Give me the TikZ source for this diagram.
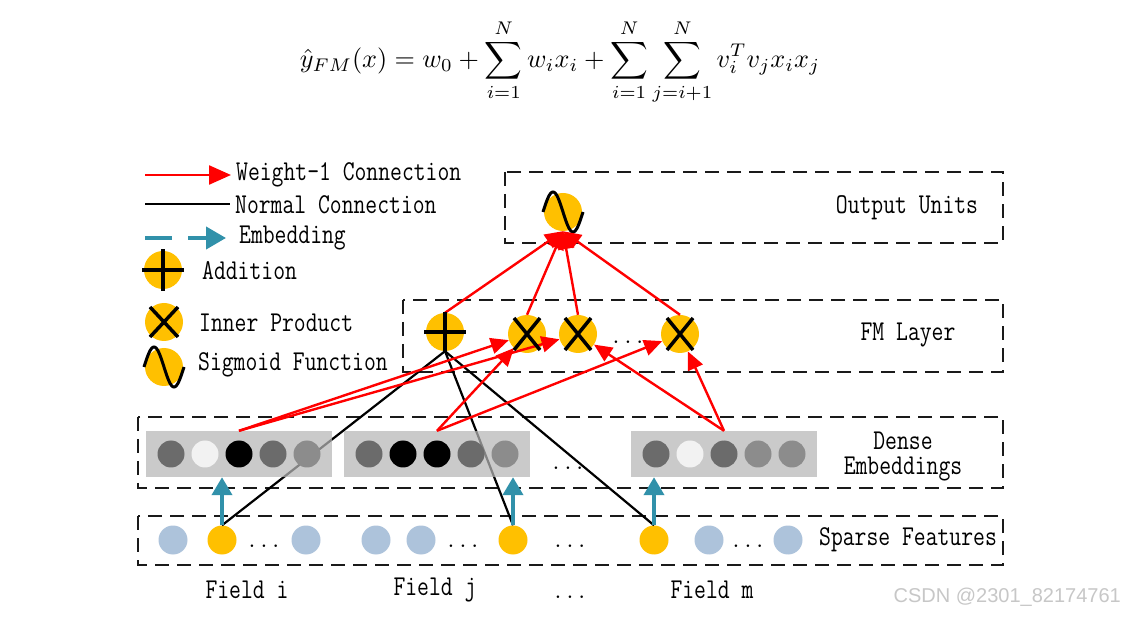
\documentclass[tikz,border=0pt]{standalone}
\usepackage{graphicx}
\usepackage{fontspec}
\newfontfamily\wmfont{Liberation Sans}
\usetikzlibrary{arrows.meta}
\definecolor{myyellow}{HTML}{FFC000}
\definecolor{myblue}{HTML}{ADC3DB}
\definecolor{myteal}{HTML}{3191AA}
\definecolor{rectgray}{HTML}{B6B6B6}
\definecolor{dgray}{HTML}{6B6B6B}
\definecolor{lgray}{HTML}{F2F2F2}
\definecolor{mgray}{HTML}{8C8C8C}
\definecolor{boxblack}{HTML}{1A1A1A}
\newcommand\lbfont{\fontsize{23}{27}\selectfont\ttfamily\addfontfeature{FakeBold=0.8}}
\newcommand\tstretch[1]{\scalebox{1}[1.25]{#1}}
\begin{document}
\begin{tikzpicture}[x=1pt,y=-1pt,
  layerbox/.style={draw=boxblack, line width=2.6pt, dash pattern=on 14pt off 8pt},
  opnode/.style={circle, fill=myyellow, minimum size=38pt, inner sep=0pt},
  sym/.style={line width=3.5pt, black},
  embc/.style={circle, minimum size=27pt, inner sep=0pt},
  sparsec/.style={circle, minimum size=29pt, inner sep=0pt},
  embrect/.style={fill=rectgray, fill opacity=0.72, minimum width=186pt, minimum height=46pt, inner sep=0pt},
  wline/.style={red, line width=2.4pt, -{Triangle[length=18pt,width=16pt]}},
  nline/.style={black, line width=2.2pt},
  eline/.style={myteal, line width=4pt, -{Triangle[length=18pt,width=20pt]}},
  lbl/.style={font=\lbfont, inner sep=0pt}
]
\fill[white] (0,0) rectangle (1125,617);
\useasboundingbox (0,0) rectangle (1125,617);

% equation
\node[scale=2.62] (eq) at (560,62) {$\displaystyle \hat{y}_{FM}(x) = w_0 + \sum_{i=1}^{N} w_i x_i + \sum_{i=1}^{N}\sum_{j=i+1}^{N} v_i^T v_j x_i x_j$};

% layer boxes
\draw[layerbox] (505,172) rectangle (1003,243);
\draw[layerbox] (403,300) rectangle (1003,372);
\draw[layerbox] (138,417) rectangle (1003,488);
\draw[layerbox] (138,516) rectangle (1003,565);

% legend
\coordinate (lr1) at (145,175); \coordinate (lr2) at (231,175);
\draw[red, line width=2.4pt, -{Triangle[length=22pt,width=19pt]}] (lr1) -- (lr2);
\node[lbl, anchor=west] (lt1) at (236,175) {\tstretch{Weight-1 Connection}};
\coordinate (ln1) at (145,204); \coordinate (ln2) at (230,204);
\draw[black, line width=2.5pt] (ln1) -- (ln2);
\node[lbl, anchor=west] (lt2) at (235,205) {\tstretch{Normal Connection}};
\coordinate (le1) at (145,238); \coordinate (le2) at (226,238);
\draw[myteal, line width=4pt, dash pattern=on 27pt off 16pt, -{Triangle[length=20pt,width=22pt]}] (le1) -- (le2);
\node[lbl, anchor=west] (lt3) at (239,238) {\tstretch{Embedding}};

\node[opnode] (la) at (163,270) {};
\draw[sym] ([xshift=-21pt]la.center) -- ([xshift=21pt]la.center);
\draw[sym] ([yshift=-21pt]la.center) -- ([yshift=21pt]la.center);
\node[lbl, anchor=west] (lt4) at (202,271) {\tstretch{Addition}};

\node[opnode] (li) at (164,322) {};
\draw[sym] ([shift={(-14,-15)}]li.center) -- ([shift={(14,15)}]li.center);
\draw[sym] ([shift={(14,-15)}]li.center) -- ([shift={(-14,15)}]li.center);
\node[lbl, anchor=west] (lt5) at (199,323) {\tstretch{Inner Product}};

\node[opnode] (ls) at (164,367) {};
\draw[sym, line width=3pt, shift={(ls.center)}] plot[domain=-20:20, samples=41, smooth] ({\x},{-20*sin(9*(\x+20))});
\node[lbl, anchor=west] (lt6) at (198,365) {\tstretch{Sigmoid Function}};

% output
\node[opnode] (out) at (563,212) {};
\draw[sym, line width=3pt, shift={(out.center)}] plot[domain=-20:20, samples=41, smooth] ({\x},{-20*sin(9*(\x+20))});
\node[lbl] (tout) at (907,208) {\tstretch{Output Units}};

% FM layer
\node[opnode] (plus) at (445,332) {};
\node[opnode] (x1) at (527,334) {};
\node[opnode] (x2) at (578,334) {};
\node[opnode] (x3) at (680,334) {};
\node[lbl, anchor=base] (fmdots) at (628,344) {...};
\node[lbl] (tfm) at (908,335) {\tstretch{FM Layer}};

% sparse features
\node[sparsec, fill=myblue] (s1) at (173,540) {};
\node[sparsec, fill=myyellow] (fi) at (222,540) {};
\node[lbl, anchor=base] (d1) at (264,547) {...};
\node[sparsec, fill=myblue] (s2) at (306,540) {};
\node[sparsec, fill=myblue] (s3) at (376,540) {};
\node[sparsec, fill=myblue] (s4) at (421,540) {};
\node[lbl, anchor=base] (d2) at (463,547) {...};
\node[sparsec, fill=myyellow] (fj) at (513,540) {};
\node[lbl, anchor=base] (d3) at (570,547) {...};
\node[sparsec, fill=myyellow] (fm) at (654,540) {};
\node[sparsec, fill=myblue] (s5) at (709,540) {};
\node[lbl, anchor=base] (d4) at (748,547) {...};
\node[sparsec, fill=myblue] (s6) at (788,540) {};
\node[lbl] (tsp) at (908,540) {\tstretch{Sparse Features}};

% normal connections (behind embeddings)
\draw[nline] (plus.south) -- (fi.north);
\draw[nline] (plus.south) -- (fj.north);
\draw[nline] (plus.south) -- (fm.north);

% dense embeddings
\node[embrect] (emb1) at (239,454) {};
\node[embrect] (emb2) at (437,454) {};
\node[embrect] (emb3) at (724,454) {};
\foreach \r/\a/\b/\c/\d/\e in {emb1/dgray/lgray/black/dgray/mgray, emb2/dgray/black/black/dgray/mgray, emb3/dgray/lgray/dgray/mgray/mgray}{
  \node[embc, fill=\a] (\r-1) at ([xshift=-68pt]\r.center) {};
  \node[embc, fill=\b] (\r-2) at ([xshift=-34pt]\r.center) {};
  \node[embc, fill=\c] (\r-3) at (\r.center) {};
  \node[embc, fill=\d] (\r-4) at ([xshift=34pt]\r.center) {};
  \node[embc, fill=\e] (\r-5) at ([xshift=68pt]\r.center) {};
}
\node[lbl, anchor=base] (d5) at (568,470) {...};
\node[lbl] (tde1) at (903,441) {\tstretch{Dense}};
\node[lbl] (tde2) at (903,469) {\tstretch{Embeddings}};

% embedding arrows
\draw[eline] (fi.north) -- (fi.north |- emb1.south);
\draw[eline] (fj.north) -- (fj.north |- emb2.south);
\draw[eline] (fm.north) -- (fm.north |- emb3.south);

% weight-1 connections from embeddings to inner products
\draw[wline] (emb1.north) -- (x1);
\draw[wline] (emb1.north) -- (x2);
\draw[wline] (emb2.north) -- (x1);
\draw[wline] (emb2.north) -- (x3);
\draw[wline] (emb3.north) -- (x2);
\draw[wline] (emb3.north) -- (x3);

% weight-1 connections to output
\draw[wline] (plus.north) -- (out.south);
\draw[wline] (x1.north) -- (out.south);
\draw[wline] (x2.north) -- (out.south);
\draw[wline] (x3.north) -- (out.south);

% symbols on FM nodes
\draw[sym] ([xshift=-21pt]plus.center) -- ([xshift=21pt]plus.center);
\draw[sym] ([yshift=-20pt]plus.center) -- ([yshift=20pt]plus.center);
\foreach \n in {x1,x2,x3}{
  \draw[sym] ([shift={(-13,-16)}]\n.center) -- ([shift={(13,16)}]\n.center);
  \draw[sym] ([shift={(13,-16)}]\n.center) -- ([shift={(-13,16)}]\n.center);
}

% field labels
\node[lbl] (fli) at (247,590) {\tstretch{Field i}};
\node[lbl] (flj) at (435,590) {\tstretch{Field j}};
\node[lbl, anchor=base] (fld) at (570,598) {...};
\node[lbl] (flm) at (712,590) {\tstretch{Field m}};

% watermark
\node[font=\wmfont\fontsize{20}{24}\selectfont, text=black!22, anchor=east, inner sep=0pt] (wm) at (1121,597) {CSDN @2301\_82174761};
\end{tikzpicture}
\end{document}
